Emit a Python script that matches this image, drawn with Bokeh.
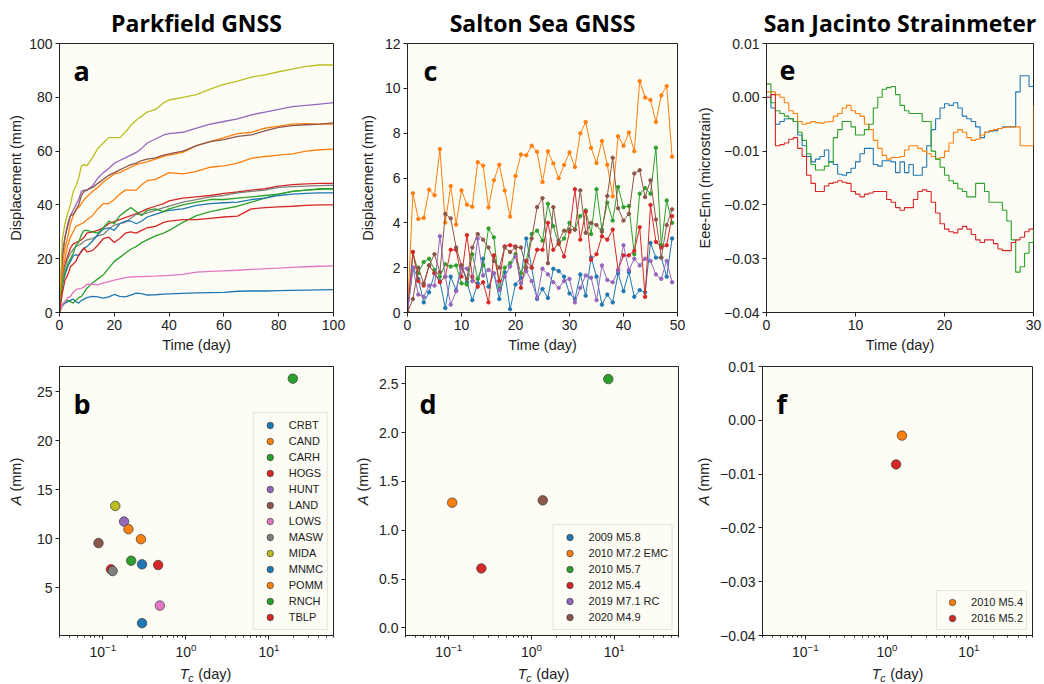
import numpy as np
from bokeh.plotting import figure
from bokeh.layouts import column, row
from bokeh.models import Range1d, Label, FixedTicker, CustomJSTickFormatter, PrintfTickFormatter
from bokeh.embed import file_html
from bokeh.resources import INLINE

# ---------------- data ----------------
C0, C1, C2, C3, C4, C5, C6, C7, C8 = ["#1f77b4", "#ff7f0e", "#2ca02c", "#d62728", "#9467bd",
                                      "#8c564b", "#e377c2", "#7f7f7f", "#bcbd22"]

# Panel a: Parkfield GNSS displacement (mm) vs time (day)
t_a = [0, 1, 2, 3, 4, 5, 6, 7, 8, 9, 10, 12, 14, 16, 18, 20, 22, 24, 26, 28, 30, 32, 35, 38, 40,
       45, 50, 55, 60, 65, 70, 75, 80, 85, 90, 95, 100]
stations = ["CRBT", "CAND", "CARH", "HOGS", "HUNT", "LAND", "LOWS", "MASW", "MIDA", "MNMC",
            "POMM", "RNCH", "TBLP"]
station_colors = [C0, C1, C2, C3, C4, C5, C6, C7, C8, C0, C1, C2, C3]
disp_CRBT = [0, 2.5, 3.5, 4, 4.5, 5, 4, 3.5, 4.5, 5, 5.5, 6, 5.8, 5.3, 5.8, 6.7, 6, 5.8, 6.5, 7.2,
             7, 6.5, 6.6, 6.8, 6.9, 7.1, 7.3, 7.4, 7.5, 7.9, 8, 8, 8.1, 8.2, 8.3, 8.4, 8.5]
disp_CAND = [0, 17, 24, 28, 33, 36, 38.5, 39, 40.5, 42, 43, 45, 46.5, 48.5, 50, 51.5, 52, 53, 54,
             55, 55.5, 56, 57, 58, 58.5, 59.5, 62, 63.5, 65, 66.5, 67, 68.5, 69.3, 70, 70.2, 70, 70]
disp_CARH = [0, 3, 4, 4.5, 4, 3.5, 4.5, 5.5, 6, 7.5, 9, 11, 12.5, 14, 16.5, 19, 20.5, 22, 23.5,
             24.5, 26, 27, 28.5, 29.5, 30.5, 33.5, 36, 37.5, 38.5, 39.5, 41, 42.5, 44, 45, 45.5,
             45.8, 46]
disp_HOGS = [0, 14, 18, 21, 24, 25.5, 26, 26.5, 27, 28, 29.5, 30, 30.5, 31.5, 33, 33.8, 34.5,
             35.3, 36, 36.8, 37.5, 38.5, 39.5, 40.5, 41.5, 42.5, 43, 43.5, 44.3, 44.8, 45.5, 46,
             47, 47.5, 47.8, 48, 48]
disp_HUNT = [0, 22, 28, 33, 36, 38, 40, 42, 45, 45.5, 45.5, 47, 50, 52, 53.5, 55.5, 56.5, 57.5,
             58.5, 59.5, 61, 63, 64.5, 66, 66.5, 67, 68.5, 70, 71, 72, 73.5, 74.5, 75.5, 76.5, 77,
             77.5, 78]
disp_LAND = [0, 20, 28, 32, 36, 36.5, 38, 40, 43.5, 45, 45.5, 46.5, 48, 49.5, 51, 52, 53, 54, 55,
             55.5, 56.5, 57, 57.5, 58.5, 59, 60, 62, 63.5, 64.3, 65.5, 66, 67.5, 68.8, 69.5, 69.8,
             70, 70.5]
disp_LOWS = [0, 3, 4, 5.5, 6, 7.5, 8.5, 8.8, 9, 9.5, 10.5, 10.5, 10.3, 11, 11.5, 12, 12.5, 13,
             13.2, 13.3, 13.3, 13.4, 13.5, 13.7, 13.8, 14.2, 15, 15.3, 15.5, 15.7, 16, 16.3, 16.5,
             16.8, 17, 17.2, 17.3]
disp_MASW = [0, 12, 17, 20, 22, 23.5, 24.5, 25, 25.5, 26.5, 27, 27.5, 28.5, 29, 31, 32.5, 33,
             33.5, 35, 36.5, 36.5, 37, 38, 39, 39.5, 41, 42, 43, 43.5, 44.5, 45, 45.5, 46.5, 46.8,
             47, 47.2, 47.3]
disp_MIDA = [0, 27, 33, 37, 40, 45, 47, 50, 54.5, 55, 54.5, 57.5, 61, 63, 65, 65, 65, 67, 69.5,
             71.5, 73, 74.5, 75.5, 78, 79, 80, 81, 83, 84.8, 86, 87.5, 88.3, 89.5, 90.5, 91.5, 92,
             92]
disp_MNMC = [0, 10, 14, 17, 19, 21, 21.5, 21, 23, 24, 24.5, 26.5, 29, 31, 31.5, 30.5, 33, 34, 34,
             33, 34, 35.5, 36.5, 37.5, 38, 38.5, 39.8, 40.5, 40.8, 41, 42, 42.5, 43.5, 44, 44.3,
             44.5, 44.5]
disp_POMM = [0, 15, 20, 25, 28, 30, 32, 32.5, 33, 33.5, 34.5, 36, 38.5, 40.5, 40.5, 42, 44, 45.5,
             45.5, 45.5, 47.5, 49, 49.5, 51, 52, 51.5, 52.5, 54, 54.5, 55.5, 57.3, 58, 58.5, 59,
             60, 60.5, 60.7]
disp_RNCH = [0, 10, 15, 18, 20, 22, 25, 26, 29, 30.5, 30.5, 30, 29.5, 31.5, 34, 33, 36, 37.5, 39,
             37.5, 36, 38, 38.5, 37.5, 38.5, 40, 41, 42, 42, 42.5, 43, 43.5, 44, 45, 45.5, 46, 46]
disp_TBLP = [0, 7, 12, 14, 17, 18, 19, 21.5, 22.5, 24, 22.5, 23, 25, 27.5, 28, 26, 27.5, 29.5, 30,
             29.5, 30.5, 31.5, 32, 33.5, 34, 34.5, 34.5, 35, 35.5, 35.8, 38.5, 39, 39.3, 39.5,
             39.8, 40, 40]
disp_a = [disp_CRBT, disp_CAND, disp_CARH, disp_HOGS, disp_HUNT, disp_LAND, disp_LOWS, disp_MASW,
          disp_MIDA, disp_MNMC, disp_POMM, disp_RNCH, disp_TBLP]

# Panel b: Parkfield fit parameters
tc_b = [0.296, 0.287, 19.4, 0.125, 0.180, 0.0885, 0.485, 0.131, 0.141, 0.296, 0.203, 0.219, 0.463]
amp_b = [1.41, 9.98, 26.36, 6.9, 11.78, 9.58, 3.2, 6.73, 13.37, 7.41, 11.0, 7.78, 7.34]

# Panel c: Salton Sea GNSS displacement (mm), daily
t_c = list(range(50))
events_c = ["2009 M5.8", "2010 M7.2 EMC", "2010 M5.7", "2012 M5.4", "2019 M7.1 RC", "2020 M4.9"]
event_colors = [C0, C1, C2, C3, C4, C5]
disp_2009 = [0, 2.0, 1.5, 0.45, 0.9, 1.75, 1.4, 0.2, 1.6, 1.0,
             2.1, 1.35, 0.55, 1.3, 2.4, 1.15, 1.75, 0.6, 1.8, 0.15,
             1.25, 1.55, 3.3, 2.0, 0.6, 1.05, 0.65, 1.95, 1.85, 1.6,
             0.85, 0.6, 1.7, 0.75, 2.45, 1.6, 0.35, 0.8, 0.45, 1.75,
             0.95, 1.8, 0.7, 1.0, 0.9, 3.1, 2.45, 2.45, 1.6, 3.3]
disp_2010emc = [0, 5.32, 4.17, 4.22, 5.48, 5.23, 7.29, 4.01, 5.64, 3.92,
                5.45, 4.81, 4.72, 6.71, 6.55, 4.69, 5.9, 6.59, 5.44, 4.28,
                6.09, 7.05, 7.01, 7.44, 7.17, 5.82, 7.19, 6.65, 5.99, 6.58,
                7.14, 6.49, 7.99, 8.5, 7.34, 6.67, 7.65, 6.59, 5.18, 7.86,
                7.44, 8.03, 7.19, 10.32, 9.59, 9.48, 8.5, 9.68, 10.1, 6.95]
disp_2010m57 = [0, 2.7, 1.75, 2.25, 2.4, 1.9, 1.6, 2.15, 2.05, 2.1,
                1.3, 1.25, 2.6, 1.5, 2.1, 3.75, 3.35, 1.1, 2.0, 2.2,
                2.6, 1.75, 2.3, 3.5, 3.65, 3.2, 4.85, 3.85, 3.05, 3.3,
                4.0, 3.7, 4.3, 4.55, 3.5, 5.5, 3.7, 4.9, 4.1, 5.6,
                4.7, 4.75, 2.6, 5.3, 5.55, 5.3, 7.35, 3.0, 5.0, 4.0]
disp_2012 = [0, 2.7, 1.4, 1.2, 2.1, 1.75, 1.35, 1.6, 2.8, 2.8,
             1.6, 3.45, 1.6, 1.15, 1.35, 0.45, 2.55, 1.4, 2.95, 3.0,
             2.95, 1.1, 2.3, 2.0, 2.8, 2.8, 4.0, 2.8, 3.1, 2.5,
             3.6, 5.5, 3.25, 4.5, 2.35, 2.6, 3.4, 3.25, 3.7, 1.9,
             2.55, 2.55, 2.75, 3.8, 0.7, 4.8, 3.15, 2.9, 3.0, 4.3]
disp_2019 = [0, 2.0, 0.8, 0.7, 1.2, 1.2, 3.4, 1.6, 0.35, 0.95,
             2.0, 1.95, 1.4, 3.3, 1.65, 1.9, 1.75, 1.0, 1.6, 2.05,
             2.5, 1.3, 1.85, 1.4, 0.65, 1.95, 1.7, 1.35, 1.1, 1.4,
             1.5, 0.45, 1.1, 1.65, 1.55, 0.55, 2.1, 1.45, 1.35, 1.85,
             3.0, 1.9, 2.4, 2.1, 2.4, 2.3, 1.7, 1.5, 2.3, 1.35]
disp_2020 = [0, 0.6, 2.0, 1.3, 2.1, 2.6, 1.8, 4.4, 4.2, 2.9,
             2.1, 1.5, 2.9, 3.5, 3.25, 2.9, 2.3, 2.0, 2.9, 2.7,
             2.9, 2.9, 2.0, 3.3, 4.7, 5.1, 2.2, 4.7, 3.2, 3.65,
             3.7, 3.7, 5.45, 3.55, 4.0, 3.9, 3.6, 5.2, 6.9, 4.65,
             4.1, 4.4, 6.2, 6.35, 5.15, 5.9, 4.15, 2.45, 3.9, 4.6]
disp_c = [disp_2009, disp_2010emc, disp_2010m57, disp_2012, disp_2019, disp_2020]

# Panel d: Salton Sea fit parameters (no estimate for 2009 and 2019)
tc_d = [float("nan"), 0.11, 8.5, 0.248, float("nan"), 1.37]
amp_d = [float("nan"), 1.282, 2.548, 0.609, float("nan"), 1.306]

# Panel e: San Jacinto strain (microstrain), half-day steps
t_e = [i * 0.5 for i in range(61)]
strain_blue = [0.0, -0.002, -0.005, -0.0045, -0.004, -0.004, -0.0045, -0.007, -0.009, -0.011,
               -0.012, -0.0115, -0.011, -0.0098, -0.012, -0.0125, -0.0143, -0.0145, -0.014, -0.0132,
               -0.012, -0.0105, -0.0095, -0.0095, -0.0125, -0.0128, -0.0118, -0.0118, -0.012, -0.014,
               -0.012, -0.014, -0.0125, -0.0145, -0.0145, -0.013, -0.009, -0.006, -0.004, -0.002,
               -0.0012, -0.0015, -0.001, -0.002, -0.0035, -0.004, -0.0045, -0.0055, -0.0075, -0.0065,
               -0.0063, -0.0062, -0.0058, -0.0055, -0.0055, -0.0055, 0.001, 0.004, 0.004, 0.002,
               0.0015]
strain_orange = [0.001, 0.001, 0.0005, 0.0, -0.001, -0.0025, -0.003, -0.0045, -0.005, -0.0048,
                 -0.0045, -0.0047, -0.0048, -0.0046, -0.0045, -0.0035, -0.003, -0.002, -0.0015, -0.0025,
                 -0.003, -0.0035, -0.005, -0.006, -0.008, -0.0095, -0.0108, -0.0115, -0.0112, -0.0112,
                 -0.011, -0.0098, -0.009, -0.009, -0.0095, -0.01, -0.0105, -0.011, -0.0115, -0.0112,
                 -0.01, -0.0085, -0.0065, -0.006, -0.0065, -0.0075, -0.008, -0.0078, -0.007, -0.0065,
                 -0.0062, -0.006, -0.0058, -0.0056, -0.0055, -0.0055, -0.0055, -0.009, -0.009, -0.009,
                 -0.0015]
strain_green = [0.0025, -0.001, -0.0025, -0.003, -0.0035, -0.004, -0.0045, -0.0065, -0.008, -0.0105,
                -0.0125, -0.0135, -0.0135, -0.0128, -0.012, -0.0075, -0.006, -0.0045, -0.0045, -0.0055,
                -0.007, -0.007, -0.006, -0.005, -0.002, 0.0, 0.0015, 0.0018, 0.002, 0.0005,
                -0.0015, -0.0025, -0.003, -0.003, -0.003, -0.0045, -0.0045, -0.01, -0.0115, -0.013,
                -0.0145, -0.0155, -0.016, -0.017, -0.0175, -0.0185, -0.0185, -0.016, -0.016, -0.0175,
                -0.0195, -0.0195, -0.0195, -0.021, -0.023, -0.0265, -0.0325, -0.0315, -0.029, -0.027,
                -0.0245]
strain_red = [0.0, 0.0005, -0.009, -0.0088, -0.0085, -0.0078, -0.0075, -0.0095, -0.011, -0.0145,
              -0.016, -0.0175, -0.0175, -0.0165, -0.016, -0.0158, -0.0155, -0.0158, -0.016, -0.0175,
              -0.018, -0.0185, -0.018, -0.0178, -0.0175, -0.0175, -0.0175, -0.019, -0.0195, -0.0205,
              -0.021, -0.0205, -0.0205, -0.019, -0.0175, -0.0172, -0.0175, -0.0195, -0.0215, -0.0235,
              -0.0245, -0.025, -0.0252, -0.0245, -0.024, -0.0245, -0.0255, -0.0265, -0.027, -0.0265,
              -0.0265, -0.0272, -0.0282, -0.0285, -0.0285, -0.027, -0.0265, -0.026, -0.025, -0.0245,
              -0.0245]
strain_e = [strain_blue, strain_orange, strain_green, strain_red]
strain_colors = [C0, C1, C2, C3]

# Panel f: San Jacinto fit parameters
events_f = ["2010 M5.4", "2016 M5.2"]
colors_f = [C1, C3]
tc_f = [1.52, 1.29]
amp_f = [-0.00284, -0.0082]

# ---------------- styling ----------------
FONT = "Liberation Sans"
BOLD = "Open Sans"
BG = "#fdfdf5"
INK = "#222222"


def make_fig(xr, yr, bl, fw, br, bt, fh, bb, log_x=False, title=None):
    p = figure(width=bl + fw + br, height=bt + fh + bb, x_range=xr, y_range=yr,
               x_axis_type="log" if log_x else "linear",
               output_backend="svg", toolbar_location=None,
               min_border_left=bl, min_border_right=br, min_border_top=bt,
               min_border_bottom=bb, title=title)
    p.background_fill_color = BG
    p.border_fill_color = "white"
    p.outline_line_color = INK
    p.outline_line_width = 1
    p.grid.visible = False
    if title is not None:
        p.title.align = "center"
        p.title.text_font = BOLD
        p.title.text_font_style = "bold"
        p.title.text_font_size = "23px"
        p.title.text_color = "black"
        p.title.standoff = 9
    for ax in p.axis:
        ax.axis_line_color = INK
        ax.major_tick_line_color = INK
        ax.minor_tick_line_color = INK
        ax.major_tick_in = 0
        ax.major_tick_out = 4
        ax.minor_tick_in = 0
        ax.minor_tick_out = 2
        ax.major_label_standoff = 3
        ax.major_label_text_font = FONT
        ax.major_label_text_font_size = "14px"
        ax.major_label_text_color = INK
        ax.axis_label_text_font = FONT
        ax.axis_label_text_font_size = "14.5px"
        ax.axis_label_text_font_style = "normal"
        ax.axis_label_text_color = INK
    p.yaxis.minor_tick_line_color = None
    if not log_x:
        p.xaxis.minor_tick_line_color = None
    return p


def label_fig(w, h):
    f = figure(width=w, height=h, x_range=Range1d(0, 1), y_range=Range1d(0, 1),
               output_backend="svg", toolbar_location=None, min_border=0,
               x_axis_location=None, y_axis_location=None, title=None)
    f.outline_line_color = None
    f.background_fill_color = "white"
    f.border_fill_color = "white"
    f.grid.visible = False
    return f


def letter(p, txt, x, y):
    p.add_layout(Label(x=x, y=y, x_units="screen", y_units="screen", text=txt,
                       text_font=BOLD, text_font_style="bold", text_font_size="27px",
                       text_color="black", text_baseline="alphabetic"))


def tc_label(p, xc, yc):
    wT, wc, wd = 9.0, 5.5, 37.0
    x0 = xc - (wT + wc + wd) / 2
    common = dict(x_units="screen", y_units="screen", text_font=FONT, text_color=INK,
                  text_baseline="middle", text_align="left")
    p.add_layout(Label(x=x0, y=yc, text="T", text_font_style="italic",
                       text_font_size="14.5px", **common))
    p.add_layout(Label(x=x0 + wT - 0.5, y=yc - 4, text="c", text_font_style="italic",
                       text_font_size="10.5px", **common))
    p.add_layout(Label(x=x0 + wT + wc + 4, y=yc, text="(day)", text_font_size="14.5px", **common))


def a_label(p, xc, yc):
    wA, wsp, wmm = 9.7, 4.0, 33.8
    y0 = yc - (wA + wsp + wmm) / 2
    common = dict(x_units="screen", y_units="screen", text_font=FONT, text_color=INK,
                  text_baseline="middle", text_align="left", angle=np.pi / 2,
                  text_font_size="14.5px")
    p.add_layout(Label(x=xc, y=y0, text="A", text_font_style="italic", **common))
    p.add_layout(Label(x=xc, y=y0 + wA + wsp, text="(mm)", **common))


def style_legend(p, glyph_h, pad):
    lg = p.legend[0]
    lg.location = "bottom_right"
    lg.margin = 5
    lg.padding = pad
    lg.spacing = 0
    lg.glyph_width = 24
    lg.glyph_height = glyph_h
    lg.label_height = glyph_h
    lg.label_standoff = 7
    lg.label_text_font = FONT
    lg.label_text_font_size = "11px"
    lg.label_text_color = INK
    lg.border_line_color = "#cccccc"
    lg.border_line_width = 1
    lg.background_fill_color = BG
    lg.background_fill_alpha = 0.85


LOG_RANGE = (0.03, 60)
fmt_code = "return (tick < -1e-9 ? '\u2212' : '') + Math.abs(tick).toFixed(2);"

# ---------------- row 1 ----------------
R1 = (43, 269, 44)

pa = make_fig(Range1d(0, 100), Range1d(0, 100), 59, 274, 23, *R1, title="Parkfield GNSS")
for name, col, ys in zip(stations, station_colors, disp_a):
    pa.line(t_a, ys, line_color=col, line_width=1.3)
pa.xaxis.ticker = FixedTicker(ticks=[0, 20, 40, 60, 80, 100])
pa.yaxis.ticker = FixedTicker(ticks=[0, 20, 40, 60, 80, 100])
pa.xaxis.axis_label = "Time (day)"
pa.yaxis.axis_label = "Displacement (mm)"
pa.xaxis.axis_label_standoff = 4
pa.yaxis.axis_label_standoff = 2
letter(pa, "a", 14, R1[1] - 27)

pc = make_fig(Range1d(0, 50), Range1d(0, 12), 48, 273, 17, *R1, title="Salton Sea GNSS")
for col, ys in zip(event_colors, disp_c):
    pc.line(t_c, ys, line_color=col, line_width=1.0)
    pc.scatter(t_c, ys, marker="circle", size=3.4, fill_color=col, line_color=col)
pc.xaxis.ticker = FixedTicker(ticks=[0, 10, 20, 30, 40, 50])
pc.yaxis.ticker = FixedTicker(ticks=[0, 2, 4, 6, 8, 10, 12])
pc.xaxis.axis_label = "Time (day)"
pc.yaxis.axis_label = "Displacement (mm)"
pc.xaxis.axis_label_standoff = 4
pc.yaxis.axis_label_standoff = 6
letter(pc, "c", 16, R1[1] - 27)

pe = make_fig(Range1d(0, 30), Range1d(-0.04, 0.01), 69, 270, 9, *R1,
              title="San Jacinto Strainmeter")
for col, ys in zip(strain_colors, strain_e):
    pe.step(t_e, ys, mode="after", line_color=col, line_width=1.1)
pe.xaxis.ticker = FixedTicker(ticks=[0, 10, 20, 30])
pe.yaxis.ticker = FixedTicker(ticks=[0.01, 0.0, -0.01, -0.02, -0.03, -0.04])
pe.yaxis.formatter = CustomJSTickFormatter(code=fmt_code)
pe.xaxis.axis_label = "Time (day)"
pe.yaxis.axis_label = "Eee-Enn (microstrain)"
pe.xaxis.axis_label_standoff = 4
pe.yaxis.axis_label_standoff = 8
letter(pe, "e", 13, R1[1] - 27)

# ---------------- row 2 ----------------
R2 = (10, 269, 27)
H2 = sum(R2)

lab_b = label_fig(28, H2)
a_label(lab_b, 15, H2 - 152)
pb = make_fig(Range1d(*LOG_RANGE), Range1d(0.15, 27.6), 31, 274, 19, *R2, log_x=True)
for name, col, x, y in zip(stations, station_colors, tc_b, amp_b):
    pb.scatter([x], [y], marker="circle", size=9.5, fill_color=col, line_color="#3a3a3a",
               line_width=0.7, legend_label=name)
pb.yaxis.ticker = FixedTicker(ticks=[5, 10, 15, 20, 25])
style_legend(pb, 16, 4)
letter(pb, "b", 14, R2[1] - 37)

lab_d = label_fig(24, H2)
a_label(lab_d, 10, H2 - 152)
pd_ = make_fig(Range1d(*LOG_RANGE), Range1d(-0.078, 2.677), 29, 273, 16, *R2, log_x=True)
for name, col, x, y in zip(events_c, event_colors, tc_d, amp_d):
    pd_.scatter([x], [y], marker="circle", size=9.5, fill_color=col, line_color="#3a3a3a",
                line_width=0.7, legend_label=name)
pd_.yaxis.ticker = FixedTicker(ticks=[0.0, 0.5, 1.0, 1.5, 2.0, 2.5])
pd_.yaxis.formatter = PrintfTickFormatter(format="%.1f")
style_legend(pd_, 16, 4)
letter(pd_, "d", 14, R2[1] - 37)

lab_f = label_fig(20, H2)
a_label(lab_f, 9, H2 - 152)
pf = make_fig(Range1d(*LOG_RANGE), Range1d(-0.04, 0.01), 48, 270, 10, *R2, log_x=True)
for name, col, x, y in zip(events_f, colors_f, tc_f, amp_f):
    pf.scatter([x], [y], marker="circle", size=9.5, fill_color=col, line_color="#3a3a3a",
               line_width=0.7, legend_label=name)
pf.yaxis.ticker = FixedTicker(ticks=[0.01, 0.0, -0.01, -0.02, -0.03, -0.04])
pf.yaxis.formatter = CustomJSTickFormatter(code=fmt_code)
style_legend(pf, 16, 3)
letter(pf, "f", 14, R2[1] - 37)

# bottom strip with the T_c axis titles
strip = label_fig(1042, 20)
for xc in (205, 543, 897):
    tc_label(strip, xc, 9)

layout = column(row(pa, pc, pe),
                row(lab_b, pb, lab_d, pd_, lab_f, pf),
                strip)
open("out.html", "w").write(file_html(layout, INLINE))
